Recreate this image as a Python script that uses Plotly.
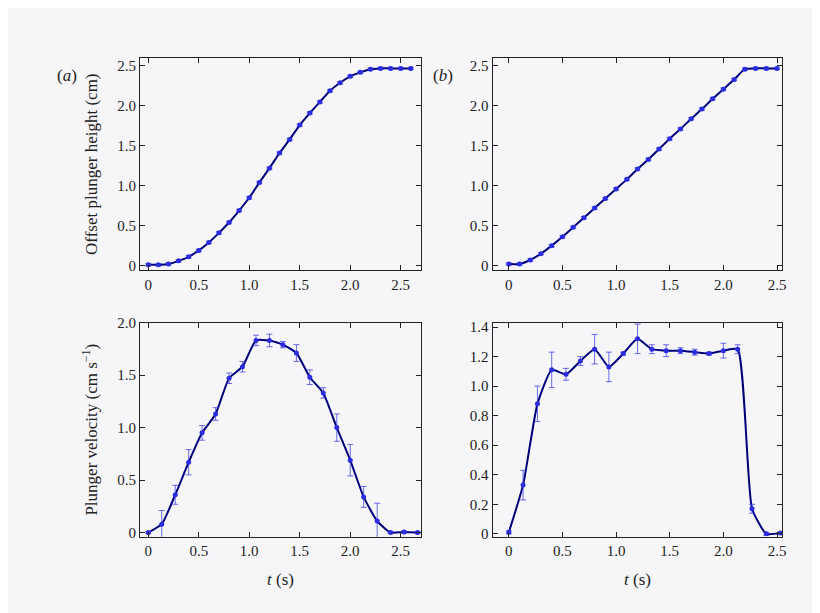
import plotly.graph_objects as go

t_h = [round(0.1*i, 1) for i in range(27)]
h_a = [0.01,0.01,0.02,0.06,0.11,0.19,0.29,0.41,0.54,0.69,0.85,1.04,1.22,1.41,1.58,1.76,1.91,2.05,2.19,2.29,2.37,2.42,2.46,2.47,2.47,2.47,2.47]
t_hb = [round(0.1*i, 1) for i in range(26)]
h_b = [0.02,0.02,0.07,0.15,0.25,0.36,0.48,0.60,0.72,0.84,0.96,1.08,1.21,1.33,1.46,1.59,1.71,1.84,1.96,2.09,2.21,2.33,2.46,2.47,2.47,2.47]

t_va = [0,0.133,0.267,0.4,0.533,0.667,0.8,0.933,1.067,1.2,1.333,1.467,1.6,1.733,1.867,2.0,2.133,2.267,2.4,2.533,2.667]
v_a = [0,0.08,0.36,0.67,0.95,1.13,1.47,1.58,1.83,1.83,1.79,1.71,1.48,1.33,1.0,0.69,0.34,0.11,0,0.005,0]
e_a = [0.01,0.13,0.09,0.12,0.07,0.06,0.05,0.05,0.05,0.06,0.03,0.08,0.07,0.05,0.13,0.15,0.1,0.17,0.01,0.01,0.01]
t_vb = [0,0.133,0.267,0.4,0.533,0.667,0.8,0.933,1.067,1.2,1.333,1.467,1.6,1.733,1.867,2.0,2.133,2.267,2.4,2.533]
v_b = [0.01,0.33,0.88,1.11,1.08,1.17,1.25,1.13,1.22,1.32,1.25,1.24,1.24,1.23,1.22,1.24,1.25,0.17,0,0.005]
e_b = [0.01,0.1,0.12,0.12,0.04,0.03,0.1,0.1,0.01,0.1,0.03,0.04,0.02,0.02,0.01,0.05,0.03,0.03,0.01,0.01]

bg = "#f6f6f8"
line_c = "#00007a"
mk_c = "#2b2be0"
FAM = "Liberation Serif"
font = dict(family=FAM, size=15, color="#222")
tfont = dict(family=FAM, size=17, color="#222")

fig = go.Figure()
def add(x, y, e, xa, ya):
    fig.add_trace(go.Scatter(x=x, y=y, mode="lines", line=dict(color=line_c, width=2, shape="spline", smoothing=0.5),
                             xaxis=xa, yaxis=ya, showlegend=False, hoverinfo="skip"))
    fig.add_trace(go.Scatter(x=x, y=y, mode="markers", marker=dict(color=mk_c, size=5),
                             error_y=dict(type="data", array=e, color="rgba(60,60,230,0.75)", thickness=1, width=3),
                             xaxis=xa, yaxis=ya, showlegend=False))

add(t_h, h_a, [0.015]*len(t_h), "x", "y")
add(t_hb, h_b, [0.015]*len(t_hb), "x2", "y2")
add(t_va, v_a, e_a, "x3", "y3")
add(t_vb, v_b, e_b, "x4", "y4")

ax = dict(showline=True, mirror="ticks", linecolor="#222", linewidth=1.2, ticks="inside", ticklen=5,
          tickcolor="#222", showgrid=False, zeroline=False, tickfont=font)
xl = [0.162, 0.506]; xr = [0.594, 0.949]
yt = [0.576, 0.93]; yb = [0.132, 0.489]
xtv = [0, 0.5, 1.0, 1.5, 2.0, 2.5]; xtt = ["0", "0.5", "1.0", "1.5", "2.0", "2.5"]
fig.update_layout(
    width=820, height=613, margin=dict(l=0, r=0, t=0, b=0),
    paper_bgcolor=bg, plot_bgcolor=bg, font=font,
    xaxis=dict(ax, domain=xl, anchor="y", range=[-0.08, 2.7], tickvals=xtv, ticktext=xtt),
    yaxis=dict(ax, domain=yt, anchor="x", range=[-0.06, 2.6], tickvals=[0,0.5,1,1.5,2,2.5], ticktext=["0","0.5","1.0","1.5","2.0","2.5"],
               title=dict(text="Offset plunger height (cm)", font=tfont)),
    xaxis2=dict(ax, domain=xr, anchor="y2", range=[-0.15, 2.55], tickvals=xtv, ticktext=xtt),
    yaxis2=dict(ax, domain=yt, anchor="x2", range=[-0.06, 2.6], tickvals=[0,0.5,1,1.5,2,2.5], ticktext=["0","0.5","1.0","1.5","2.0","2.5"]),
    xaxis3=dict(ax, domain=xl, anchor="y3", range=[-0.08, 2.7], tickvals=xtv, ticktext=xtt,
                title=dict(text="<i>t</i> (s)", font=tfont)),
    yaxis3=dict(ax, domain=yb, anchor="x3", range=[-0.04, 2.0], tickvals=[0,0.5,1,1.5,2], ticktext=["0","0.5","1.0","1.5","2.0"],
                title=dict(text="Plunger velocity (cm s<sup>−1</sup>)", font=tfont)),
    xaxis4=dict(ax, domain=xr, anchor="y4", range=[-0.15, 2.55], tickvals=xtv, ticktext=xtt,
                title=dict(text="<i>t</i> (s)", font=tfont)),
    yaxis4=dict(ax, domain=yb, anchor="x4", range=[-0.02, 1.43], tickvals=[0,0.2,0.4,0.6,0.8,1.0,1.2,1.4],
                ticktext=["0","0.2","0.4","0.6","0.8","1.0","1.2","1.4"]),
    annotations=[
        dict(text="(<i>a</i>)", x=0.058, y=0.92, xref="paper", yref="paper", showarrow=False, font=tfont),
        dict(text="(<i>b</i>)", x=0.533, y=0.92, xref="paper", yref="paper", showarrow=False, font=tfont),
    ],
)
fig.write_html("out.html")
